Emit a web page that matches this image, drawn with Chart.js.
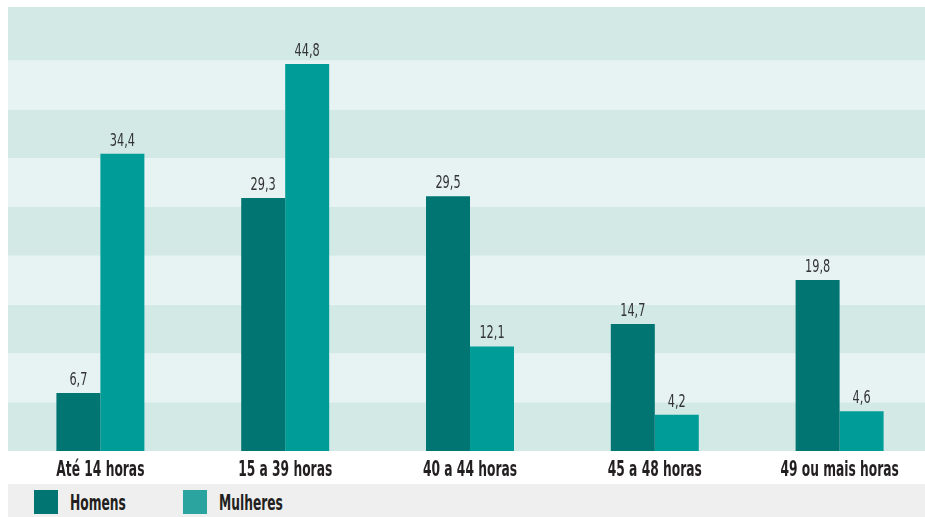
<!DOCTYPE html>
<html>
<head>
<meta charset="utf-8">
<script src="https://cdn.jsdelivr.net/npm/chart.js@4"></script>
<style>
  html, body { margin: 0; padding: 0; background: #ffffff; overflow: hidden; }
  #wrap { position: relative; width: 925px; height: 517px; overflow: hidden; }
  #cv { position: absolute; left: 0; top: 0; }
  #legend { position: absolute; left: 8px; top: 484px; width: 917px; height: 33px; background: #efefef;
            font-family: "DejaVu Sans Condensed", "DejaVu Sans", sans-serif; font-weight: bold;
            font-size: 22px; color: #231f20; }
  .item { position: absolute; top: 6px; height: 24px; }
  .sw { position: absolute; left: 0; top: 0; width: 24px; height: 24px; }
  .lb { position: absolute; left: 36px; top: 0px; white-space: nowrap; line-height: 26px;
        display: inline-block; transform: scaleX(0.62); transform-origin: 0 50%; }
</style>
</head>
<body>
<div id="wrap">
  <canvas id="cv" width="932" height="484" style="width:932px;height:484px"></canvas>
  <div id="legend"></div>
</div>
<script>
const categories = ["Até 14 horas", "15 a 39 horas", "40 a 44 horas", "45 a 48 horas", "49 ou mais horas"];
const homens = [6.7, 29.3, 29.5, 14.7, 19.8];
const mulheres = [34.4, 44.8, 12.1, 4.2, 4.6];
const seriesNames = ["Homens", "Mulheres"];

const COLORS = { homens: "#007571", mulheres: "#009c98", legHomens: "#007571", legMulheres: "#2ba39f" };
const FONT = '"DejaVu Sans Condensed", "DejaVu Sans", sans-serif';

// legend (HTML)
const legend = document.getElementById("legend");
[[seriesNames[0], COLORS.legHomens, 26], [seriesNames[1], COLORS.legMulheres, 175]].forEach(([t, c, x]) => {
  const d = document.createElement("div");
  d.className = "item"; d.style.left = x + "px";
  d.innerHTML = '<div class="sw" style="background:' + c + '"></div><span class="lb">' + t + '</span>';
  legend.appendChild(d);
});

function drawScaled(ctx, text, x, y, sx) {
  ctx.save();
  ctx.translate(x, y);
  ctx.scale(sx, 1);
  ctx.fillText(text, 0, 0);
  ctx.restore();
}

const bandsPlugin = {
  id: "bands",
  beforeDatasetsDraw(chart) {
    const { ctx, chartArea } = chart;
    const y = chart.scales.y;
    const step = 5.65, n = 9;
    ctx.save();
    for (let i = 0; i < n; i++) {
      const yb = y.getPixelForValue(i * step);
      const yt = i === n - 1 ? chartArea.top : y.getPixelForValue((i + 1) * step);
      ctx.fillStyle = i % 2 === 0 ? "#d2e9e6" : "#e7f3f2";
      ctx.fillRect(chartArea.left, yt, chartArea.right - chartArea.left, yb - yt);
    }
    ctx.restore();
  }
};

const textPlugin = {
  id: "texts",
  afterDatasetsDraw(chart) {
    const { ctx, chartArea } = chart;
    ctx.save();
    ctx.textAlign = "center";
    ctx.textBaseline = "alphabetic";
    // value labels
    ctx.font = '17px ' + FONT;
    ctx.fillStyle = "#333333";
    chart.data.datasets.forEach((ds, di) => {
      chart.getDatasetMeta(di).data.forEach((bar, i) => {
        const txt = ds.data[i].toFixed(1).replace(".", ",");
        drawScaled(ctx, txt, bar.x, bar.y - 8, 0.74);
      });
    });
    // category labels
    const xs = chart.scales.x;
    ctx.font = 'bold 22px ' + FONT;
    ctx.fillStyle = "#231f20";
    chart.data.labels.forEach((lab, i) => {
      drawScaled(ctx, lab, xs.getPixelForTick(i), chartArea.bottom + 25, 0.62);
    });
    ctx.restore();
  }
};

new Chart(document.getElementById("cv"), {
  type: "bar",
  data: {
    labels: categories,
    datasets: [
      { label: seriesNames[0], data: homens, backgroundColor: COLORS.homens },
      { label: seriesNames[1], data: mulheres, backgroundColor: COLORS.mulheres }
    ]
  },
  options: {
    responsive: false,
    animation: false,
    devicePixelRatio: 1,
    layout: { padding: { left: 8, top: 7, right: 0, bottom: 0 } },
    plugins: { legend: { display: false }, tooltip: { enabled: false } },
    datasets: { bar: { categoryPercentage: 0.476, barPercentage: 1.0, borderWidth: 0 } },
    scales: {
      x: {
        grid: { display: false, drawTicks: false },
        border: { display: false },
        ticks: { display: false },
        afterFit(scale) { scale.height = 33; }
      },
      y: {
        display: false,
        min: 0,
        max: 51.4
      }
    }
  },
  plugins: [bandsPlugin, textPlugin]
});
</script>
</body>
</html>
